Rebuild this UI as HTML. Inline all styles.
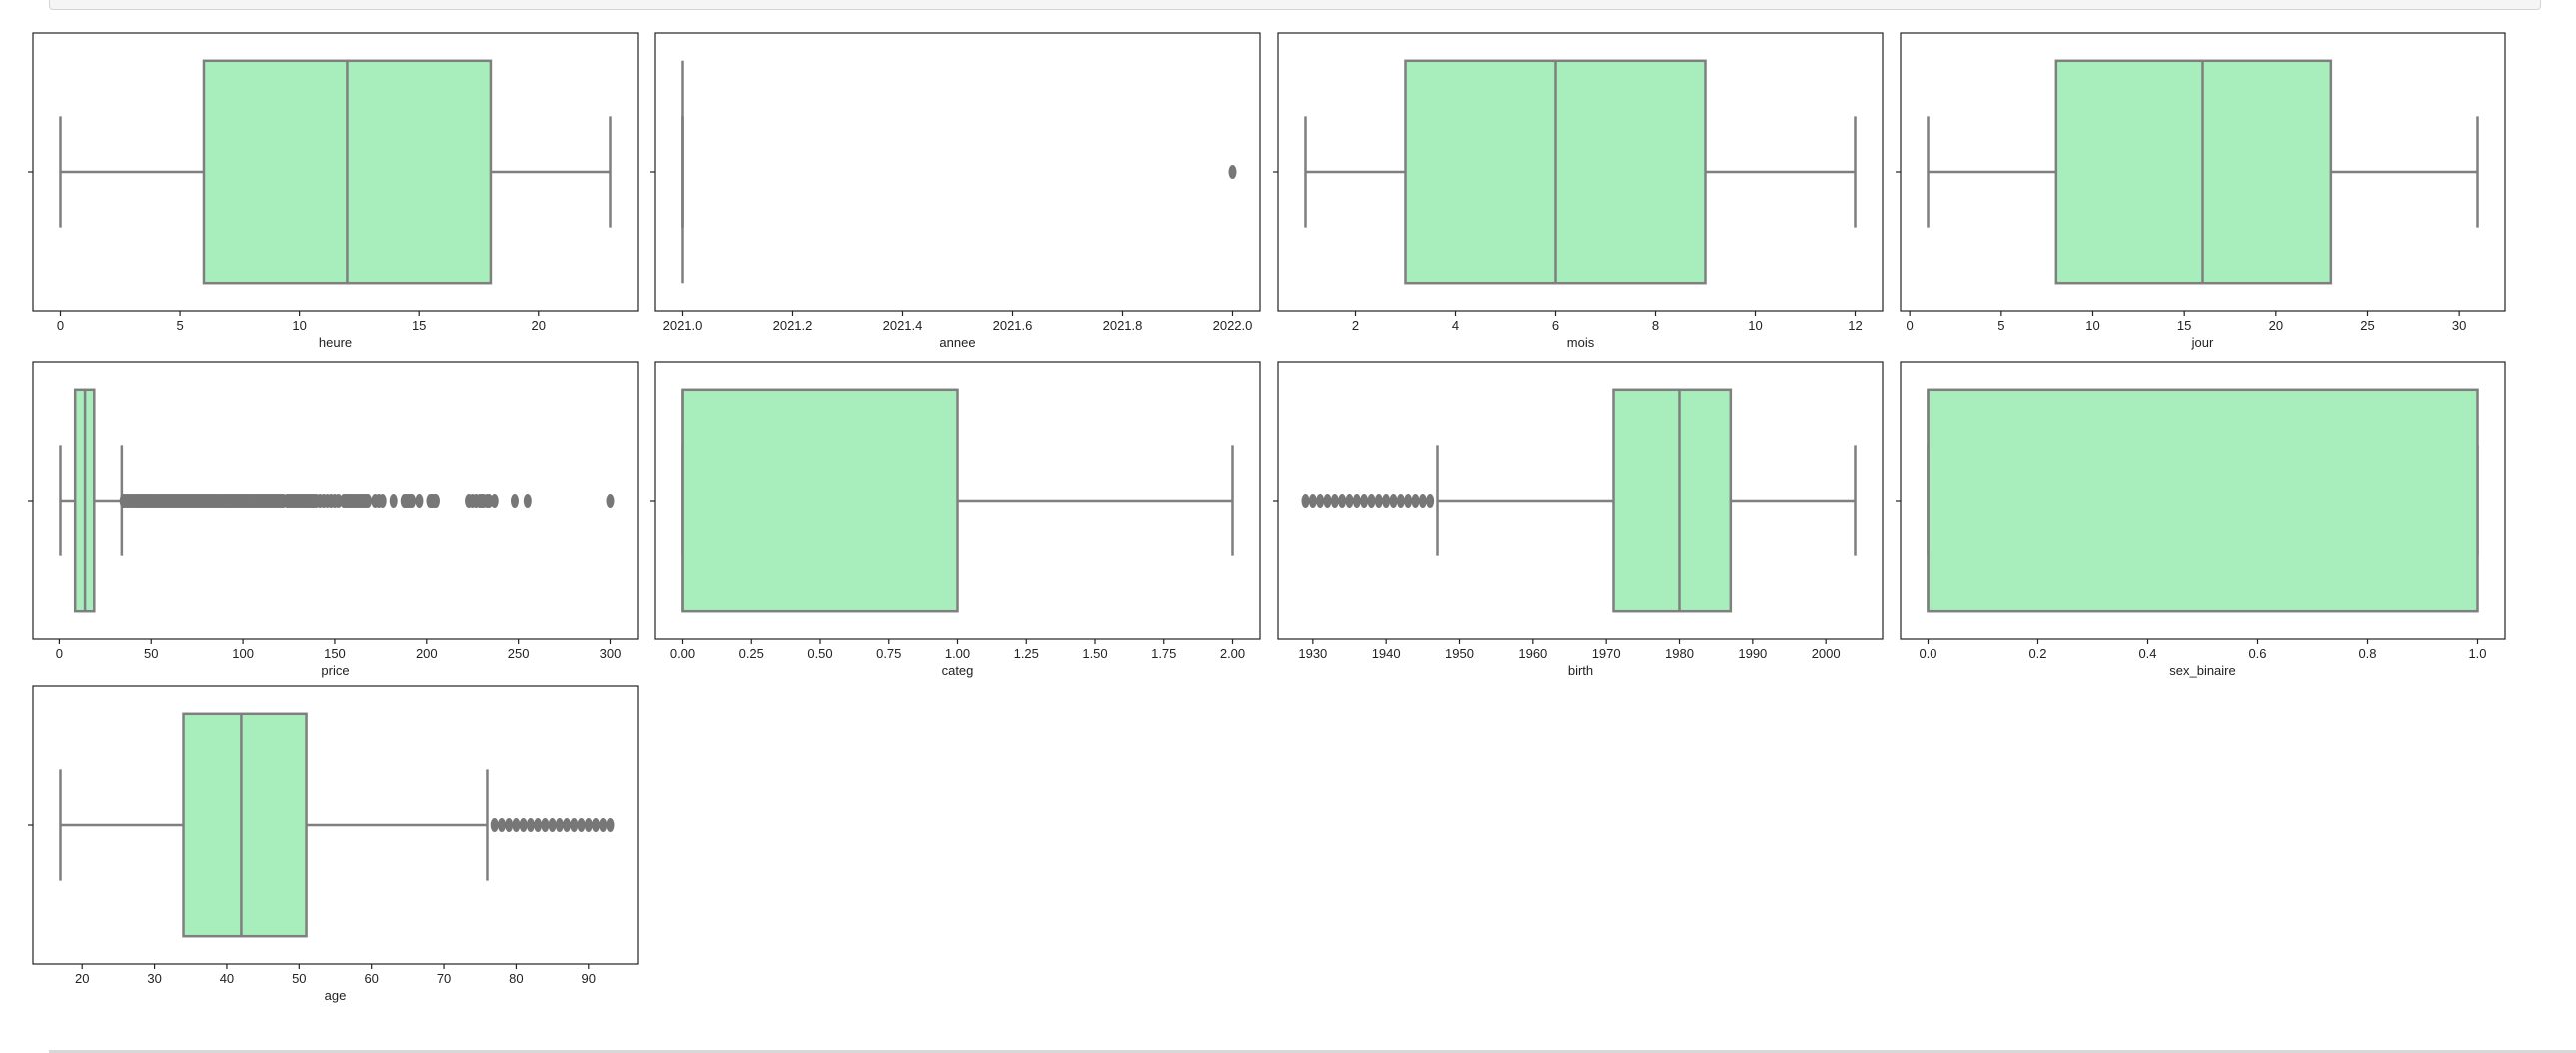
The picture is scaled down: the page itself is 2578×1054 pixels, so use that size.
<!DOCTYPE html>
<html><head><meta charset="utf-8">
<style>
html,body{margin:0;padding:0;background:#fff;width:2578px;height:1054px;overflow:hidden;font-family:"Liberation Sans",sans-serif;}
#topbar{position:absolute;left:49px;top:-6px;width:2492px;height:14px;background:#f5f5f5;border:1.5px solid #d4d4d4;border-radius:4px;}
#bottomline{position:absolute;left:49px;top:1051px;width:2529px;height:3px;background:#d8d8d8;}
svg{position:absolute;left:0;top:0;}
</style></head>
<body>
<div id="topbar"></div>
<div id="bottomline"></div>
<svg id="chart" width="2578" height="1054"></svg>
<script>
const labels = ["heure","annee","mois","jour","price","categ","birth","sex_binaire","age"];
const whisLo = [0, 2021, 1, 1, 0.6, 0, 1947, 0, 17];
const q1 =     [6, 2021, 3, 8, 8.6, 0, 1971, 0, 34];
const med =    [12, 2021, 6, 16, 14, 0, 1980, 0, 42];
const q3 =     [18, 2021, 9, 23, 19, 1, 1987, 1, 51];
const whisHi = [23, 2021, 12, 31, 34, 2, 2004, 1, 76];
const fliersAnnee = [2022];
const fliersPrice = [35,36,37,38,39,40,41,42,43,44,45,46,47,48,49,50,51,52,53,54,55,56,57,58,59,60,61,62,63,64,65,66,67,68,69,70,71,72,73,74,75,76,77,78,79,80,81,82,83,84,85,86,87,88,89,90,91,92,93,94,95,96,97,98,99,100,101,102,103,104,105,106,107,108,109,110,111,112,113,114,115,116,117,118,119,120,121,122,124,125,126,127,128,129,130,131,132,133,134,135,136,137,138,139,140,142,144,146,148,150,152,155,156,157,158,159,160,161,162,163,164,165,166,167,168,172,174,176,182,188,189,190,191,192,196,202,203,204,205,223,225,227,229,230,231,233,234,237,248,255,300];
const fliersBirth = [1929,1930,1931,1932,1933,1934,1935,1936,1937,1938,1939,1940,1941,1942,1943,1944,1945,1946];
const fliersAge = [77,78,79,80,81,82,83,84,85,86,87,88,89,90,91,92,93];
const fliers = [[], fliersAnnee, [], [], fliersPrice, [], fliersBirth, [], fliersAge];
const ticks = [
  [0,5,10,15,20],
  [2021.0,2021.2,2021.4,2021.6,2021.8,2022.0],
  [2,4,6,8,10,12],
  [0,5,10,15,20,25,30],
  [0,50,100,150,200,250,300],
  [0,0.25,0.5,0.75,1,1.25,1.5,1.75,2],
  [1930,1940,1950,1960,1970,1980,1990,2000],
  [0,0.2,0.4,0.6,0.8,1.0],
  [20,30,40,50,60,70,80,90]
];
const tickDecimals = [0,1,0,0,0,2,0,1,0];

const NS = "http://www.w3.org/2000/svg";
const svg = document.getElementById("chart");
const GRAY = "#7f7f7f", FILL = "#a8eebc";
function mk(tag, attrs, parent){
  const e = document.createElementNS(NS, tag);
  for (const k in attrs) e.setAttribute(k, attrs[k]);
  (parent||svg).appendChild(e);
  return e;
}
const colX = [33, 656, 1279, 1902], rowY = [33, 362, 687];
const PW = 605, PH = 278;
labels.forEach((lab, i) => {
  const px = colX[i % 4], py = rowY[Math.floor(i / 4)];
  const g = mk("g", {});
  
  
  const all = [whisLo[i], whisHi[i], ...fliers[i]];
  const lo = Math.min(...all), hi = Math.max(...all);
  const pad = (hi - lo) * 0.05;
  const x0 = lo - pad, x1 = hi + pad;
  const sx = v => px + (v - x0) / (x1 - x0) * PW;
  const sy = f => py + f * PH;
  const wl = mk("line", {x1: sx(whisLo[i]), x2: sx(q1[i]), y1: sy(0.5), y2: sy(0.5), stroke: GRAY, "stroke-width": 2.5}, g);
  
  
  const wh = mk("line", {x1: sx(q3[i]), x2: sx(whisHi[i]), y1: sy(0.5), y2: sy(0.5), stroke: GRAY, "stroke-width": 2.5}, g);
  
  
  const c1 = mk("line", {x1: sx(whisLo[i]), x2: sx(whisLo[i]), y1: sy(0.3), y2: sy(0.7), stroke: GRAY, "stroke-width": 2.5}, g);
  
  
  const c2 = mk("line", {x1: sx(whisHi[i]), x2: sx(whisHi[i]), y1: sy(0.3), y2: sy(0.7), stroke: GRAY, "stroke-width": 2.5}, g);
  
  
  const bx = mk("rect", {x: sx(q1[i]), y: sy(0.1), width: Math.max(0, sx(q3[i]) - sx(q1[i])), height: sy(0.9) - sy(0.1), fill: FILL, stroke: GRAY, "stroke-width": 2.5}, g);
  
  
  const md = mk("line", {x1: sx(med[i]), x2: sx(med[i]), y1: sy(0.1), y2: sy(0.9), stroke: GRAY, "stroke-width": 2.5}, g);
  
  
  fliers[i].forEach(v => {
    const d = mk("ellipse", {cx: sx(v), cy: sy(0.5), rx: 3.5, ry: 6.5, fill: "#777", stroke: "#777", "stroke-width": 1}, g);
    
    
  });
  const fr = mk("rect", {x: px, y: py, width: PW, height: PH, fill: "none", stroke: "#222", "stroke-width": 1.2}, g);
  
  
  const yt = mk("line", {x1: px - 5, x2: px, y1: sy(0.5), y2: sy(0.5), stroke: "#222", "stroke-width": 1.2}, g);
  
  
  ticks[i].forEach(t => {
    const x = sx(t);
    const tl = mk("line", {x1: x, x2: x, y1: py + PH, y2: py + PH + 5, stroke: "#222", "stroke-width": 1.2}, g);
    
    
    const tx = mk("text", {x: x, y: py + PH + 19, "text-anchor": "middle", "font-size": 13, fill: "#222"}, g);
    tx.textContent = t.toFixed(tickDecimals[i]);
    
    
  });
  const xl = mk("text", {x: px + PW / 2, y: py + PH + 36, "text-anchor": "middle", "font-size": 13, fill: "#222"}, g);
  xl.textContent = lab;
  
  
});
</script>
</body></html>
